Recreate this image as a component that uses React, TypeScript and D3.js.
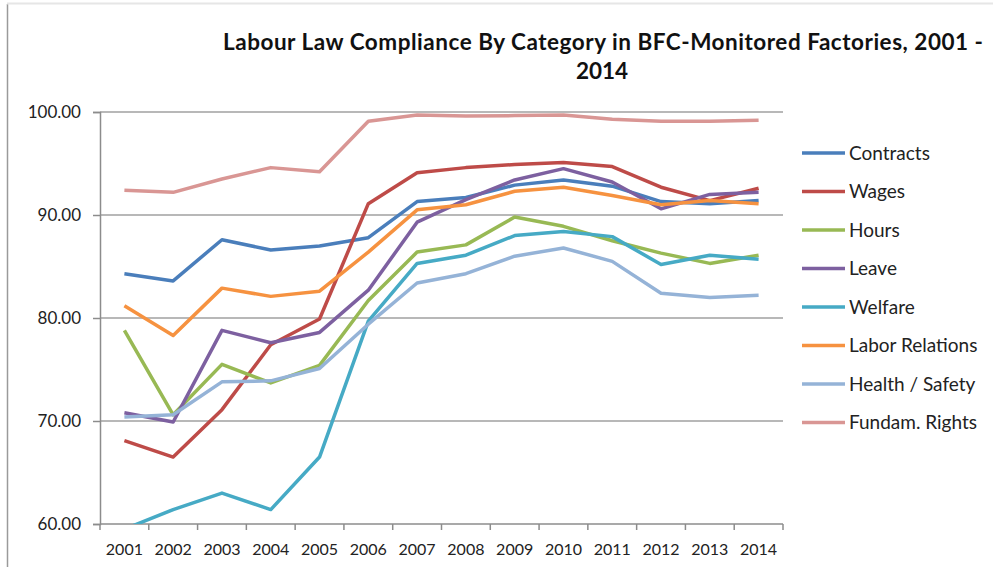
import { useEffect, useRef } from "react";
import * as d3 from "d3";

const YEARS = ["2001", "2002", "2003", "2004", "2005", "2006", "2007", "2008", "2009", "2010", "2011", "2012", "2013", "2014"];

const CONTRACTS = [84.3, 83.6, 87.6, 86.6, 87.0, 87.8, 91.3, 91.7, 92.9, 93.4, 92.8, 91.3, 91.1, 91.4];
const WAGES = [68.1, 66.5, 71.1, 77.4, 79.9, 91.1, 94.1, 94.6, 94.9, 95.1, 94.7, 92.7, 91.4, 92.6];
const HOURS = [78.8, 70.6, 75.5, 73.7, 75.4, 81.7, 86.4, 87.1, 89.8, 88.9, 87.5, 86.3, 85.3, 86.1];
const LEAVE = [70.8, 69.9, 78.8, 77.6, 78.6, 82.7, 89.3, 91.5, 93.4, 94.5, 93.2, 90.6, 92.0, 92.2];
const WELFARE = [59.5, 61.4, 63.0, 61.4, 66.5, 79.7, 85.3, 86.1, 88.0, 88.4, 87.9, 85.2, 86.1, 85.7];
const LABOR_RELATIONS = [81.2, 78.3, 82.9, 82.1, 82.6, 86.4, 90.5, 91.0, 92.3, 92.7, 91.9, 91.0, 91.4, 91.1];
const HEALTH_SAFETY = [70.4, 70.6, 73.8, 73.9, 75.1, 79.4, 83.4, 84.3, 86.0, 86.8, 85.5, 82.4, 82.0, 82.2];
const FUNDAM_RIGHTS = [92.4, 92.2, 93.5, 94.6, 94.2, 99.1, 99.7, 99.6, 99.65, 99.7, 99.3, 99.1, 99.1, 99.2];

const SERIES_NAMES = ["Contracts", "Wages", "Hours", "Leave", "Welfare", "Labor Relations", "Health / Safety", "Fundam. Rights"];
const SERIES_VALUES = [CONTRACTS, WAGES, HOURS, LEAVE, WELFARE, LABOR_RELATIONS, HEALTH_SAFETY, FUNDAM_RIGHTS];
const SERIES_COLORS = ["#4a7ebb", "#be4b48", "#98b954", "#7d60a0", "#46aac5", "#f69240", "#95b3d7", "#d99694"];

const Y_TICKS = [60, 70, 80, 90, 100];

const W = 993;
const H = 567;
const PLOT = { left: 100, right: 783, top: 112, bottom: 524 };
const FONT = "Lato, 'Open Sans', sans-serif";

export default function App() {
  const svgRef = useRef<SVGSVGElement>(null);

  useEffect(() => {
    const svg = d3.select(svgRef.current);
    svg.selectAll("*").remove();

    // frame
    svg.append("rect").attr("width", W).attr("height", H).attr("fill", "#fff");
    svg.append("line").attr("x1", 7.5).attr("x2", 7.5).attr("y1", 4).attr("y2", H)
      .attr("stroke", "#9a9a9a").attr("stroke-width", 1.5);
    svg.append("line").attr("x1", 7).attr("x2", W).attr("y1", 3.5).attr("y2", 3.5)
      .attr("stroke", "#e6e6e6").attr("stroke-width", 2);

    const x = d3.scaleBand().domain(YEARS).range([PLOT.left, PLOT.right]);
    const y = d3.scaleLinear().domain([60, 100]).range([PLOT.bottom, PLOT.top]);

    // title
    const title = svg.append("text")
      .attr("font-family", FONT).attr("font-weight", 700).attr("font-size", 22.5)
      .attr("fill", "#111").attr("text-anchor", "middle");
    title.append("tspan").attr("x", 603).attr("y", 50)
      .attr("textLength", 760).attr("lengthAdjust", "spacing")
      .text("Labour Law Compliance By Category in BFC-Monitored Factories, 2001 -");
    title.append("tspan").attr("x", 602).attr("y", 79).text("2014");

    // gridlines
    svg.append("g").selectAll("line").data(Y_TICKS.slice(1)).join("line")
      .attr("x1", PLOT.left).attr("x2", PLOT.right)
      .attr("y1", (d) => y(d)).attr("y2", (d) => y(d))
      .attr("stroke", "#a0a0a0").attr("stroke-width", 1.5);

    // y axis
    svg.append("g").attr("transform", `translate(${PLOT.left},0)`)
      .call(d3.axisLeft(y).tickValues(Y_TICKS).tickFormat(d3.format(".2f")).tickSize(7).tickPadding(12))
      .call((g) => g.select(".domain").attr("stroke", "#8c8c8c").attr("stroke-width", 1.5))
      .call((g) => g.selectAll(".tick line").attr("stroke", "#8c8c8c").attr("stroke-width", 1.5))
      .call((g) => g.selectAll(".tick text").attr("fill", "#222").attr("font-size", 17).attr("font-family", FONT));

    // x axis
    const xAxisG = svg.append("g").attr("transform", `translate(0,${PLOT.bottom})`);
    xAxisG.append("line").attr("x1", PLOT.left).attr("x2", PLOT.right)
      .attr("stroke", "#8c8c8c").attr("stroke-width", 1.5);
    const bounds = d3.range(YEARS.length + 1).map((i) => PLOT.left + i * x.bandwidth());
    xAxisG.selectAll("line.tk").data(bounds).join("line").attr("class", "tk")
      .attr("x1", (d) => d).attr("x2", (d) => d).attr("y1", 0).attr("y2", 6)
      .attr("stroke", "#8c8c8c").attr("stroke-width", 1.5);
    xAxisG.selectAll("text").data(YEARS).join("text")
      .attr("x", (d) => (x(d) as number) + x.bandwidth() / 2).attr("y", 31)
      .attr("text-anchor", "middle").attr("font-family", FONT).attr("font-size", 16)
      .attr("fill", "#222").text((d) => d);

    // lines
    svg.append("defs").append("clipPath").attr("id", "plotClip").append("rect")
      .attr("x", PLOT.left).attr("y", PLOT.top - 10)
      .attr("width", PLOT.right - PLOT.left).attr("height", PLOT.bottom - PLOT.top + 10);

    const line = d3.line<number>()
      .x((_, i) => (x(YEARS[i]) as number) + x.bandwidth() / 2)
      .y((d) => y(d));

    const lines = svg.append("g").attr("clip-path", "url(#plotClip)");
    SERIES_VALUES.forEach((vals, i) => {
      lines.append("path").datum(vals)
        .attr("fill", "none").attr("stroke", SERIES_COLORS[i]).attr("stroke-width", 3.5)
        .attr("stroke-linejoin", "round").attr("d", line);
    });

    // legend
    const legend = svg.append("g");
    SERIES_NAMES.forEach((name, i) => {
      const ly = 153 + i * 38.5;
      legend.append("line").attr("x1", 802).attr("x2", 845).attr("y1", ly).attr("y2", ly)
        .attr("stroke", SERIES_COLORS[i]).attr("stroke-width", 3.5);
      legend.append("text").attr("x", 849).attr("y", ly + 6.5)
        .attr("font-family", FONT).attr("font-size", 19).attr("fill", "#222").text(name);
    });
  }, []);

  return (
    <svg ref={svgRef} width={W} height={H}
      style={{ position: "absolute", left: 0, top: 0, display: "block" }} />
  );
}
